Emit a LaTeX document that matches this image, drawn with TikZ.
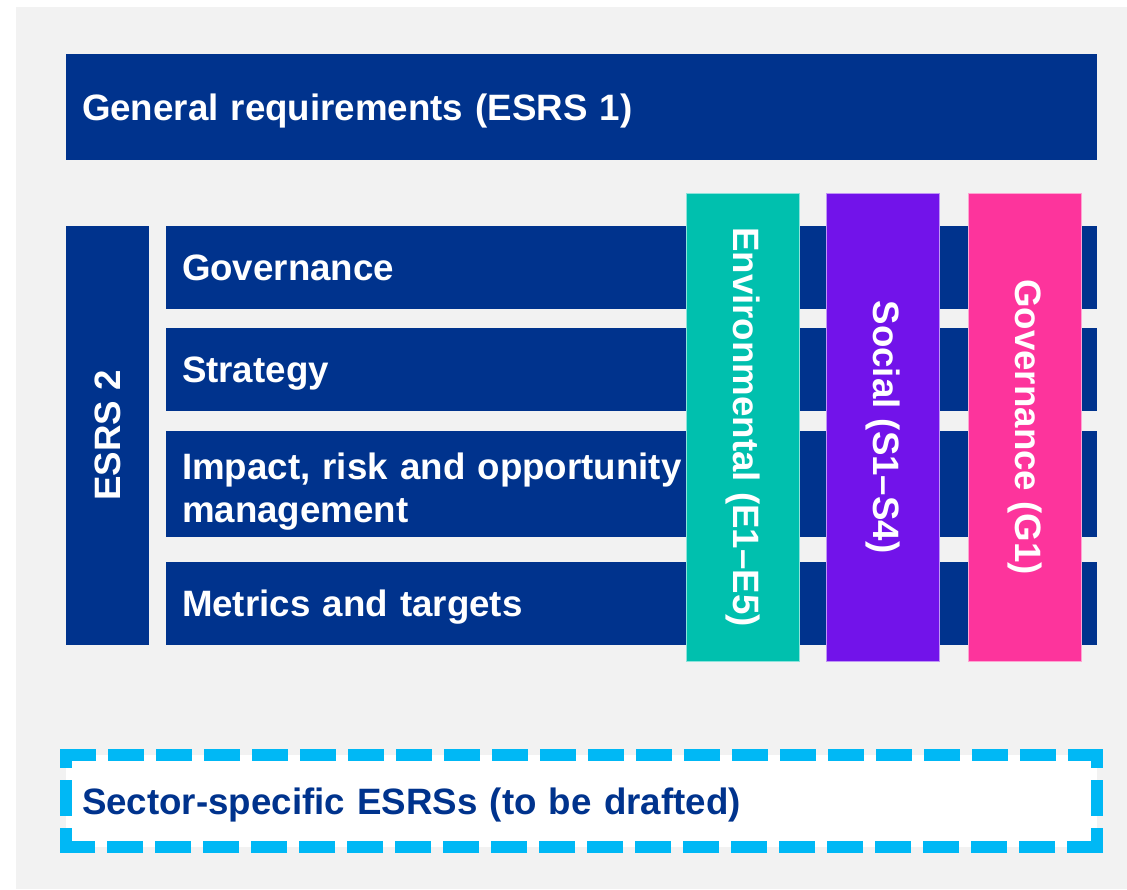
\documentclass[tikz,border=0pt]{standalone}
\usepackage{fontspec}
\setmainfont{Liberation Sans}
\usepackage{tikz}

\definecolor{esrsblue}{HTML}{00338D}
\definecolor{envteal}{HTML}{00C0AE}
\definecolor{socpurple}{HTML}{7213EA}
\definecolor{govpink}{HTML}{FD349C}
\definecolor{sectcyan}{HTML}{00B8F5}
\definecolor{bggray}{HTML}{F2F2F2}

\begin{document}
\begin{tikzpicture}[x=1pt,y=-1pt,
  bigfont/.style={font=\bfseries\fontsize{36.7}{43}\selectfont},
  bar/.style={bigfont,fill=esrsblue,text=white,outer sep=0pt,inner ysep=0pt,
    inner xsep=16pt,align=left,text height=26.3pt,text depth=0pt,minimum height=#1},
  bar/.default=83pt,
  pillar/.style={bigfont,fill=#1,draw=white!55!#1,line width=1pt,text=white,
    rotate=-90,minimum width=468pt,minimum height=113pt,outer sep=0pt},
  sectline/.style={draw=sectcyan,line width=12pt,shorten <=-6pt,shorten >=-6pt}]
 % page and background
 \useasboundingbox (0,0) rectangle (1127,889);
 \fill[bggray] (16,7) rectangle (1127,889);
 % top band
 \node[bar=106pt,text width=999pt] (genreq) at (581.5,107) {General requirements (ESRS 1)};
 % ESRS 2 and its four rows
 \node[bigfont,fill=esrsblue,text=white,rotate=90,minimum width=419pt,
   minimum height=83pt,outer sep=0pt,text height=26.3pt,text depth=0pt] (esrstwo) at (107.5,435.5) {ESRS 2};
 \node[bar,text width=899pt] (rowgov) at (631.5,267.5) {Governance};
 \node[bar,text width=899pt] (rowstrat) at (631.5,369.5) {Strategy};
 \node[bar=106pt,text width=899pt,text depth=36pt] (rowiro) at (631.5,484) {Impact, risk and opportunity\\management};
 \node[bar,text width=899pt] (rowmet) at (631.5,603.5) {Metrics and targets};
 % topical pillars
 \node[pillar=envteal] (env) at (742.5,427) {Environmental (E1--E5)};
 \node[pillar=socpurple] (soc) at (882.5,427) {Social (S1--S4)};
 \node[pillar=govpink] (gov) at (1024.5,427) {Governance (G1)};
 % sector box, dashed frame drawn side by side
 \node[bigfont,fill=white,text=esrsblue,text width=999pt,inner xsep=16pt,inner ysep=0pt,
   align=left,text height=26.3pt,text depth=0pt,minimum height=92pt,outer sep=0pt]
   (sector) at (581.5,801) {Sector-specific ESRSs (to be drafted)};
 \draw[sectline,dash pattern=on 36pt off 12pt] (sector.north west) -- (sector.north east);
 \draw[sectline,dash pattern=on 36pt off 12pt] (sector.south east) -- (sector.south west);
 \draw[sectline,dash pattern=on 36pt off 12pt,dash phase=17pt] (sector.north east) -- (sector.south east);
 \draw[sectline,dash pattern=on 36pt off 12pt,dash phase=17pt] (sector.north west) -- (sector.south west);
\end{tikzpicture}
\end{document}
